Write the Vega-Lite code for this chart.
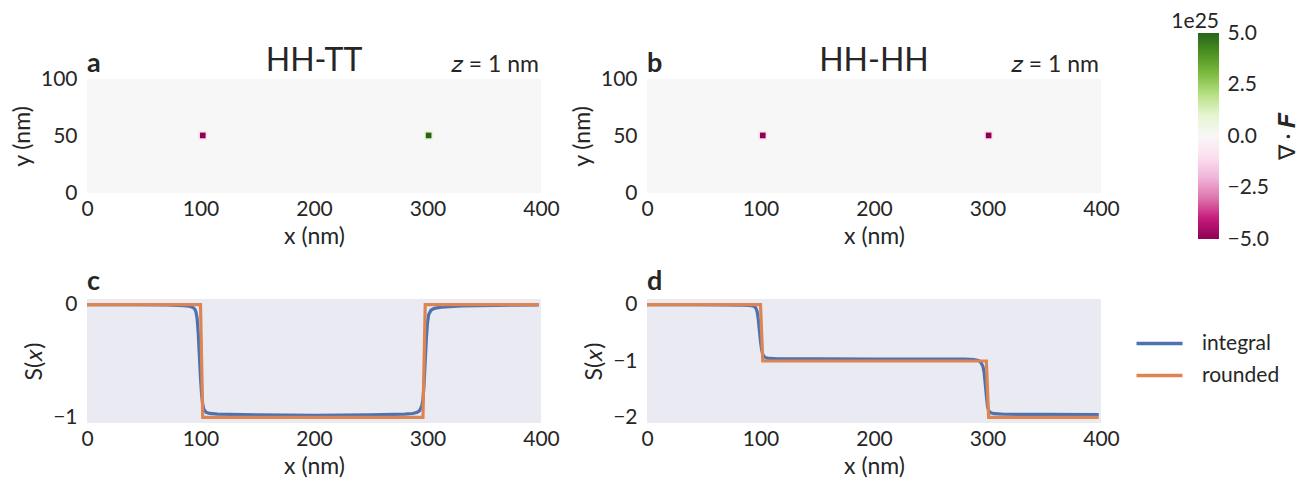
{
  "$schema": "https://vega.github.io/schema/vega-lite/v6.json",
  "background": "white",
  "padding": {"left": 11, "top": 11, "right": 0, "bottom": 0},
  "datasets": {
    "heat": [
      {"panel": "a", "x0": 0, "x1": 400, "y0": 0, "y1": 100, "v": 0},
      {"panel": "a", "x0": 98, "x1": 106, "y0": 46.5, "y1": 54.5, "v": -0.8},
      {"panel": "a", "x0": 297, "x1": 305, "y0": 46.5, "y1": 54.5, "v": 0.8},
      {"panel": "a", "x0": 99.5, "x1": 104.5, "y0": 48, "y1": 53, "v": -5},
      {"panel": "a", "x0": 298.5, "x1": 303.5, "y0": 48, "y1": 53, "v": 5},
      {"panel": "b", "x0": 0, "x1": 400, "y0": 0, "y1": 100, "v": 0},
      {"panel": "b", "x0": 98, "x1": 106, "y0": 46.5, "y1": 54.5, "v": -0.8},
      {"panel": "b", "x0": 297, "x1": 305, "y0": 46.5, "y1": 54.5, "v": -0.8},
      {"panel": "b", "x0": 99.5, "x1": 104.5, "y0": 48, "y1": 53, "v": -5},
      {"panel": "b", "x0": 298.5, "x1": 303.5, "y0": 48, "y1": 53, "v": -5}
    ],
    "labels": [
      {"panel": "a", "letter": "a", "name": "HH-TT", "z": "𝑧 = 1 nm"},
      {"panel": "b", "letter": "b", "name": "HH-HH", "z": "𝑧 = 1 nm"}
    ],
    "lines": [
      {"panel": "c", "series": "integral", "x": 0, "s": 0},
      {"panel": "c", "series": "integral", "x": 40, "s": -0.001},
      {"panel": "c", "series": "integral", "x": 70, "s": -0.003},
      {"panel": "c", "series": "integral", "x": 85, "s": -0.008},
      {"panel": "c", "series": "integral", "x": 90, "s": -0.013},
      {"panel": "c", "series": "integral", "x": 93, "s": -0.022},
      {"panel": "c", "series": "integral", "x": 95, "s": -0.04},
      {"panel": "c", "series": "integral", "x": 96, "s": -0.065},
      {"panel": "c", "series": "integral", "x": 97, "s": -0.12},
      {"panel": "c", "series": "integral", "x": 98, "s": -0.25},
      {"panel": "c", "series": "integral", "x": 99, "s": -0.45},
      {"panel": "c", "series": "integral", "x": 100, "s": -0.65},
      {"panel": "c", "series": "integral", "x": 101, "s": -0.8},
      {"panel": "c", "series": "integral", "x": 102, "s": -0.89},
      {"panel": "c", "series": "integral", "x": 103, "s": -0.93},
      {"panel": "c", "series": "integral", "x": 105, "s": -0.955},
      {"panel": "c", "series": "integral", "x": 108, "s": -0.965},
      {"panel": "c", "series": "integral", "x": 115, "s": -0.972},
      {"panel": "c", "series": "integral", "x": 150, "s": -0.978},
      {"panel": "c", "series": "integral", "x": 200, "s": -0.982},
      {"panel": "c", "series": "integral", "x": 250, "s": -0.978},
      {"panel": "c", "series": "integral", "x": 280, "s": -0.972},
      {"panel": "c", "series": "integral", "x": 287, "s": -0.966},
      {"panel": "c", "series": "integral", "x": 291, "s": -0.955},
      {"panel": "c", "series": "integral", "x": 293, "s": -0.94},
      {"panel": "c", "series": "integral", "x": 295, "s": -0.9},
      {"panel": "c", "series": "integral", "x": 296, "s": -0.84},
      {"panel": "c", "series": "integral", "x": 297, "s": -0.7},
      {"panel": "c", "series": "integral", "x": 298, "s": -0.5},
      {"panel": "c", "series": "integral", "x": 299, "s": -0.3},
      {"panel": "c", "series": "integral", "x": 300, "s": -0.16},
      {"panel": "c", "series": "integral", "x": 301, "s": -0.09},
      {"panel": "c", "series": "integral", "x": 303, "s": -0.05},
      {"panel": "c", "series": "integral", "x": 306, "s": -0.033},
      {"panel": "c", "series": "integral", "x": 312, "s": -0.022},
      {"panel": "c", "series": "integral", "x": 330, "s": -0.012},
      {"panel": "c", "series": "integral", "x": 360, "s": -0.006},
      {"panel": "c", "series": "integral", "x": 398, "s": -0.002},
      {"panel": "c", "series": "rounded", "x": 0, "s": 0},
      {"panel": "c", "series": "rounded", "x": 100, "s": 0},
      {"panel": "c", "series": "rounded", "x": 102, "s": -1},
      {"panel": "c", "series": "rounded", "x": 296, "s": -1},
      {"panel": "c", "series": "rounded", "x": 298, "s": 0},
      {"panel": "c", "series": "rounded", "x": 398, "s": 0},
      {"panel": "d", "series": "integral", "x": 0, "s": 0},
      {"panel": "d", "series": "integral", "x": 40, "s": -0.001},
      {"panel": "d", "series": "integral", "x": 70, "s": -0.003},
      {"panel": "d", "series": "integral", "x": 85, "s": -0.008},
      {"panel": "d", "series": "integral", "x": 90, "s": -0.013},
      {"panel": "d", "series": "integral", "x": 93, "s": -0.022},
      {"panel": "d", "series": "integral", "x": 95, "s": -0.04},
      {"panel": "d", "series": "integral", "x": 96, "s": -0.065},
      {"panel": "d", "series": "integral", "x": 97, "s": -0.12},
      {"panel": "d", "series": "integral", "x": 98, "s": -0.25},
      {"panel": "d", "series": "integral", "x": 99, "s": -0.45},
      {"panel": "d", "series": "integral", "x": 100, "s": -0.65},
      {"panel": "d", "series": "integral", "x": 101, "s": -0.8},
      {"panel": "d", "series": "integral", "x": 102, "s": -0.88},
      {"panel": "d", "series": "integral", "x": 103, "s": -0.92},
      {"panel": "d", "series": "integral", "x": 105, "s": -0.945},
      {"panel": "d", "series": "integral", "x": 108, "s": -0.955},
      {"panel": "d", "series": "integral", "x": 115, "s": -0.961},
      {"panel": "d", "series": "integral", "x": 150, "s": -0.964},
      {"panel": "d", "series": "integral", "x": 200, "s": -0.966},
      {"panel": "d", "series": "integral", "x": 250, "s": -0.966},
      {"panel": "d", "series": "integral", "x": 280, "s": -0.968},
      {"panel": "d", "series": "integral", "x": 288, "s": -0.975},
      {"panel": "d", "series": "integral", "x": 292, "s": -0.99},
      {"panel": "d", "series": "integral", "x": 294, "s": -1.02},
      {"panel": "d", "series": "integral", "x": 296, "s": -1.1},
      {"panel": "d", "series": "integral", "x": 297, "s": -1.2},
      {"panel": "d", "series": "integral", "x": 298, "s": -1.4},
      {"panel": "d", "series": "integral", "x": 299, "s": -1.62},
      {"panel": "d", "series": "integral", "x": 300, "s": -1.8},
      {"panel": "d", "series": "integral", "x": 301, "s": -1.88},
      {"panel": "d", "series": "integral", "x": 303, "s": -1.92},
      {"panel": "d", "series": "integral", "x": 306, "s": -1.935},
      {"panel": "d", "series": "integral", "x": 315, "s": -1.945},
      {"panel": "d", "series": "integral", "x": 350, "s": -1.948},
      {"panel": "d", "series": "integral", "x": 398, "s": -1.95},
      {"panel": "d", "series": "rounded", "x": 0, "s": 0},
      {"panel": "d", "series": "rounded", "x": 100, "s": 0},
      {"panel": "d", "series": "rounded", "x": 102, "s": -1},
      {"panel": "d", "series": "rounded", "x": 299, "s": -1},
      {"panel": "d", "series": "rounded", "x": 301, "s": -2},
      {"panel": "d", "series": "rounded", "x": 398, "s": -2}
    ]
  },
  "columns": 3,
  "spacing": {"row": 60, "column": 106},
  "bounds": "flush",
  "align": "each",
  "center": true,
  "concat": [
    {
      "width": 454, "height": 114,
      "layer": [
        {
          "data": {"name": "heat"},
          "transform": [{"filter": "datum.panel === 'a'"}],
          "mark": {"type": "rect"},
          "encoding": {
            "x": {"field": "x0", "type": "quantitative", "scale": {"domain": [0, 400], "nice": false}, "axis": {"values": [0, 100, 200, 300, 400], "title": "x (nm)"}},
            "x2": {"field": "x1"},
            "y": {"field": "y0", "type": "quantitative", "scale": {"domain": [0, 100], "nice": false}, "axis": {"values": [0, 50, 100], "title": "y (nm)", "labelPadding": 10}},
            "y2": {"field": "y1"},
            "color": {"field": "v", "type": "quantitative", "scale": {"domain": [-5, -4, -3, -2, -1, 0, 1, 2, 3, 4, 5], "range": ["#8e0152", "#c51b7d", "#de77ae", "#f1b6da", "#fde0ef", "#f7f7f7", "#e6f5d0", "#b8e186", "#7fbc41", "#4d9221", "#276419"], "interpolate": "rgb"}, "legend": null}
          }
        },
        {
          "data": {"name": "labels"},
          "transform": [{"filter": "datum.panel === 'a'"}],
          "mark": {"type": "text", "align": "left", "baseline": "alphabetic", "fontSize": 27, "fontWeight": "bold", "dy": -7.5, "color": "#262626"},
          "encoding": {"x": {"datum": 0}, "y": {"datum": 100}, "text": {"field": "letter"}}
        },
        {
          "data": {"name": "labels"},
          "transform": [{"filter": "datum.panel === 'a'"}],
          "mark": {"type": "text", "align": "center", "baseline": "alphabetic", "fontSize": 32, "dy": -8.5, "color": "#262626"},
          "encoding": {"x": {"datum": 200}, "y": {"datum": 100}, "text": {"field": "name"}}
        },
        {
          "data": {"name": "labels"},
          "transform": [{"filter": "datum.panel === 'a'"}],
          "mark": {"type": "text", "align": "right", "baseline": "alphabetic", "fontSize": 23, "dy": -7.5, "dx": -2, "color": "#262626"},
          "encoding": {"x": {"datum": 400}, "y": {"datum": 100}, "text": {"field": "z"}}
        }
      ]
    },
    {
      "width": 454, "height": 114,
      "layer": [
        {
          "data": {"name": "heat"},
          "transform": [{"filter": "datum.panel === 'b'"}],
          "mark": {"type": "rect"},
          "encoding": {
            "x": {"field": "x0", "type": "quantitative", "scale": {"domain": [0, 400], "nice": false}, "axis": {"values": [0, 100, 200, 300, 400], "title": "x (nm)"}},
            "x2": {"field": "x1"},
            "y": {"field": "y0", "type": "quantitative", "scale": {"domain": [0, 100], "nice": false}, "axis": {"values": [0, 50, 100], "title": "y (nm)", "labelPadding": 10}},
            "y2": {"field": "y1"},
            "color": {"field": "v", "type": "quantitative", "scale": {"domain": [-5, -4, -3, -2, -1, 0, 1, 2, 3, 4, 5], "range": ["#8e0152", "#c51b7d", "#de77ae", "#f1b6da", "#fde0ef", "#f7f7f7", "#e6f5d0", "#b8e186", "#7fbc41", "#4d9221", "#276419"], "interpolate": "rgb"}, "legend": null}
          }
        },
        {
          "data": {"name": "labels"},
          "transform": [{"filter": "datum.panel === 'b'"}],
          "mark": {"type": "text", "align": "left", "baseline": "alphabetic", "fontSize": 27, "fontWeight": "bold", "dy": -7.5, "color": "#262626"},
          "encoding": {"x": {"datum": 0}, "y": {"datum": 100}, "text": {"field": "letter"}}
        },
        {
          "data": {"name": "labels"},
          "transform": [{"filter": "datum.panel === 'b'"}],
          "mark": {"type": "text", "align": "center", "baseline": "alphabetic", "fontSize": 32, "dy": -8.5, "color": "#262626"},
          "encoding": {"x": {"datum": 200}, "y": {"datum": 100}, "text": {"field": "name"}}
        },
        {
          "data": {"name": "labels"},
          "transform": [{"filter": "datum.panel === 'b'"}],
          "mark": {"type": "text", "align": "right", "baseline": "alphabetic", "fontSize": 23, "dy": -7.5, "dx": -2, "color": "#262626"},
          "encoding": {"x": {"datum": 400}, "y": {"datum": 100}, "text": {"field": "z"}}
        }
      ]
    },
    {
      "width": 12, "height": 206,
      "title": {"text": "1e25", "fontSize": 21, "fontWeight": "normal", "anchor": "end", "frame": "group", "offset": -10},
      "data": {"values": [{"lo": -5, "hi": 5}]},
      "mark": {"type": "rect", "xOffset": -9, "fill": {"gradient": "linear", "x1": 0, "y1": 1, "x2": 0, "y2": 0, "stops": [
        {"offset": 0, "color": "#8e0152"}, {"offset": 0.1, "color": "#c51b7d"}, {"offset": 0.2, "color": "#de77ae"},
        {"offset": 0.3, "color": "#f1b6da"}, {"offset": 0.4, "color": "#fde0ef"}, {"offset": 0.5, "color": "#f7f7f7"},
        {"offset": 0.6, "color": "#e6f5d0"}, {"offset": 0.7, "color": "#b8e186"}, {"offset": 0.8, "color": "#7fbc41"},
        {"offset": 0.9, "color": "#4d9221"}, {"offset": 1, "color": "#276419"}]}},
      "encoding": {
        "x": {"datum": 0, "type": "quantitative", "scale": {"domain": [0, 1], "nice": false}, "axis": null},
        "x2": {"datum": 1},
        "y": {"field": "lo", "type": "quantitative", "scale": {"domain": [-5, 5], "nice": false}, "axis": {"orient": "right", "values": [-5, -2.5, 0, 2.5, 5], "format": ".1f", "title": "∇ · 𝑭", "titleAngle": 270, "titleBaseline": "top", "labelPadding": 8, "titlePadding": 8}},
        "y2": {"field": "hi"}
      }
    },
    {
      "width": 454, "height": 124,
      "title": {"text": "c", "fontSize": 27, "fontWeight": "bold", "anchor": "start", "frame": "group", "offset": -2},
      "view": {"fill": "#eaeaf2"},
      "data": {"name": "lines"},
      "transform": [{"filter": "datum.panel === 'c'"}],
      "mark": {"type": "line", "strokeWidth": 3.2},
      "encoding": {
        "x": {"field": "x", "type": "quantitative", "scale": {"domain": [0, 400], "nice": false}, "axis": {"values": [0, 100, 200, 300, 400], "title": "x (nm)"}},
        "y": {"field": "s", "type": "quantitative", "scale": {"domain": [-1.05, 0.05], "nice": false, "zero": false}, "axis": {"values": [0, -1], "format": "d", "title": "S(𝑥)", "labelPadding": 10}},
        "color": {"field": "series", "type": "nominal", "scale": {"domain": ["integral", "rounded"], "range": ["#4c72b0", "#dd8452"]}, "legend": null}
      }
    },
    {
      "width": 454, "height": 124,
      "title": {"text": "d", "fontSize": 27, "fontWeight": "bold", "anchor": "start", "frame": "group", "offset": -2},
      "view": {"fill": "#eaeaf2"},
      "data": {"name": "lines"},
      "transform": [{"filter": "datum.panel === 'd'"}],
      "mark": {"type": "line", "strokeWidth": 3.2},
      "encoding": {
        "x": {"field": "x", "type": "quantitative", "scale": {"domain": [0, 400], "nice": false}, "axis": {"values": [0, 100, 200, 300, 400], "title": "x (nm)"}},
        "y": {"field": "s", "type": "quantitative", "scale": {"domain": [-2.1, 0.1], "nice": false, "zero": false}, "axis": {"values": [0, -1, -2], "format": "d", "title": "S(𝑥)", "labelPadding": 10}},
        "color": {"field": "series", "type": "nominal", "scale": {"domain": ["integral", "rounded"], "range": ["#4c72b0", "#dd8452"]},
          "legend": {"orient": "none", "legendX": 499, "legendY": 31, "title": null, "symbolType": "M-2,0H2", "symbolSize": 529, "symbolStrokeWidth": 3.5, "labelFontSize": 21, "labelColor": "#262626", "labelOffset": 29, "rowPadding": 8}}
      }
    }
  ],
  "config": {
    "font": "Lato",
    "view": {"stroke": null},
    "title": {"color": "#262626"},
    "axis": {"domain": false, "ticks": false, "grid": false, "labelFontSize": 21, "titleFontSize": 23, "labelColor": "#262626", "titleColor": "#262626", "titleFontWeight": "normal", "labelFlush": false, "labelOverlap": false, "labelPadding": 5, "titlePadding": 6}
  }
}
